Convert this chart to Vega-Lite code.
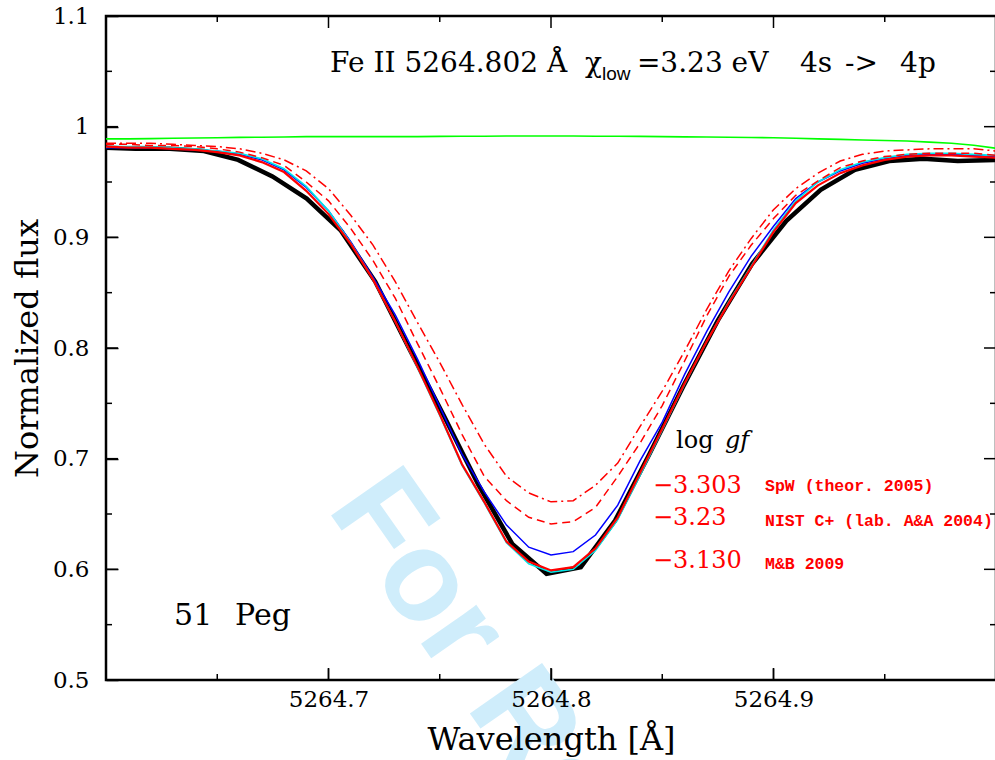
{
  "$schema": "https://vega.github.io/schema/vega-lite/v6.json",
  "width": 890,
  "height": 664,
  "autosize": {"type": "none"},
  "padding": {"left": 106, "top": 16, "right": 0, "bottom": 80},
  "background": "white",
  "config": {"view": {"stroke": "black", "strokeWidth": 2.5}, "font": "DejaVu Serif"},
  "datasets": {
    "obs": [
      {"lam": 5264.6000, "flux": 0.981}, {"lam": 5264.6132, "flux": 0.980}, {"lam": 5264.6286, "flux": 0.980},
      {"lam": 5264.6440, "flux": 0.978}, {"lam": 5264.6594, "flux": 0.970}, {"lam": 5264.6748, "flux": 0.955},
      {"lam": 5264.6902, "flux": 0.935}, {"lam": 5264.7056, "flux": 0.906}, {"lam": 5264.7210, "flux": 0.860},
      {"lam": 5264.7364, "flux": 0.799}, {"lam": 5264.7518, "flux": 0.739}, {"lam": 5264.7672, "flux": 0.677},
      {"lam": 5264.7826, "flux": 0.623}, {"lam": 5264.7980, "flux": 0.596}, {"lam": 5264.8134, "flux": 0.602},
      {"lam": 5264.8288, "flux": 0.644}, {"lam": 5264.8442, "flux": 0.704}, {"lam": 5264.8596, "flux": 0.766},
      {"lam": 5264.8750, "flux": 0.825}, {"lam": 5264.8904, "flux": 0.876}, {"lam": 5264.9058, "flux": 0.915},
      {"lam": 5264.9212, "flux": 0.943}, {"lam": 5264.9366, "flux": 0.961}, {"lam": 5264.9520, "flux": 0.969},
      {"lam": 5264.9674, "flux": 0.971}, {"lam": 5264.9828, "flux": 0.969}, {"lam": 5265.0000, "flux": 0.970}
    ],
    "models": [
      {"lam": 5264.60, "green": 0.989, "cyan": 0.982, "blue": 0.981, "mb": 0.982, "nist": 0.984, "spw": 0.985},
      {"lam": 5264.61, "green": 0.989, "cyan": 0.982, "blue": 0.981, "mb": 0.981, "nist": 0.984, "spw": 0.985},
      {"lam": 5264.62, "green": 0.9892, "cyan": 0.982, "blue": 0.981, "mb": 0.981, "nist": 0.983, "spw": 0.985},
      {"lam": 5264.63, "green": 0.9895, "cyan": 0.981, "blue": 0.980, "mb": 0.980, "nist": 0.983, "spw": 0.984},
      {"lam": 5264.64, "green": 0.9898, "cyan": 0.980, "blue": 0.979, "mb": 0.979, "nist": 0.982, "spw": 0.983},
      {"lam": 5264.65, "green": 0.990, "cyan": 0.978, "blue": 0.978, "mb": 0.977, "nist": 0.980, "spw": 0.982},
      {"lam": 5264.66, "green": 0.9903, "cyan": 0.976, "blue": 0.975, "mb": 0.974, "nist": 0.977, "spw": 0.980},
      {"lam": 5264.67, "green": 0.9905, "cyan": 0.971, "blue": 0.970, "mb": 0.968, "nist": 0.972, "spw": 0.976},
      {"lam": 5264.68, "green": 0.9907, "cyan": 0.962, "blue": 0.961, "mb": 0.959, "nist": 0.965, "spw": 0.970},
      {"lam": 5264.69, "green": 0.991, "cyan": 0.946, "blue": 0.945, "mb": 0.942, "nist": 0.950, "spw": 0.960},
      {"lam": 5264.70, "green": 0.991, "cyan": 0.924, "blue": 0.924, "mb": 0.921, "nist": 0.933, "spw": 0.944},
      {"lam": 5264.71, "green": 0.991, "cyan": 0.895, "blue": 0.896, "mb": 0.894, "nist": 0.908, "spw": 0.920},
      {"lam": 5264.72, "green": 0.991, "cyan": 0.862, "blue": 0.864, "mb": 0.862, "nist": 0.879, "spw": 0.893},
      {"lam": 5264.73, "green": 0.991, "cyan": 0.824, "blue": 0.830, "mb": 0.824, "nist": 0.845, "spw": 0.860},
      {"lam": 5264.74, "green": 0.991, "cyan": 0.782, "blue": 0.790, "mb": 0.783, "nist": 0.804, "spw": 0.823},
      {"lam": 5264.75, "green": 0.9912, "cyan": 0.739, "blue": 0.747, "mb": 0.740, "nist": 0.764, "spw": 0.787},
      {"lam": 5264.76, "green": 0.9913, "cyan": 0.694, "blue": 0.704, "mb": 0.695, "nist": 0.722, "spw": 0.749},
      {"lam": 5264.77, "green": 0.9914, "cyan": 0.660, "blue": 0.670, "mb": 0.661, "nist": 0.684, "spw": 0.713},
      {"lam": 5264.78, "green": 0.9915, "cyan": 0.624, "blue": 0.640, "mb": 0.625, "nist": 0.662, "spw": 0.684},
      {"lam": 5264.79, "green": 0.9915, "cyan": 0.605, "blue": 0.620, "mb": 0.607, "nist": 0.647, "spw": 0.669},
      {"lam": 5264.80, "green": 0.9915, "cyan": 0.5975, "blue": 0.613, "mb": 0.599, "nist": 0.641, "spw": 0.661},
      {"lam": 5264.81, "green": 0.9915, "cyan": 0.600, "blue": 0.616, "mb": 0.602, "nist": 0.643, "spw": 0.662},
      {"lam": 5264.82, "green": 0.9914, "cyan": 0.617, "blue": 0.631, "mb": 0.619, "nist": 0.656, "spw": 0.676},
      {"lam": 5264.83, "green": 0.9913, "cyan": 0.645, "blue": 0.658, "mb": 0.647, "nist": 0.684, "spw": 0.696},
      {"lam": 5264.84, "green": 0.9912, "cyan": 0.685, "blue": 0.698, "mb": 0.687, "nist": 0.714, "spw": 0.729},
      {"lam": 5264.85, "green": 0.991, "cyan": 0.726, "blue": 0.733, "mb": 0.727, "nist": 0.748, "spw": 0.761},
      {"lam": 5264.86, "green": 0.9908, "cyan": 0.767, "blue": 0.776, "mb": 0.768, "nist": 0.788, "spw": 0.797},
      {"lam": 5264.87, "green": 0.9906, "cyan": 0.806, "blue": 0.815, "mb": 0.806, "nist": 0.829, "spw": 0.835},
      {"lam": 5264.88, "green": 0.9904, "cyan": 0.842, "blue": 0.851, "mb": 0.841, "nist": 0.865, "spw": 0.870},
      {"lam": 5264.89, "green": 0.9902, "cyan": 0.874, "blue": 0.883, "mb": 0.873, "nist": 0.893, "spw": 0.899},
      {"lam": 5264.90, "green": 0.990, "cyan": 0.907, "blue": 0.910, "mb": 0.905, "nist": 0.917, "spw": 0.925},
      {"lam": 5264.91, "green": 0.9895, "cyan": 0.933, "blue": 0.935, "mb": 0.931, "nist": 0.938, "spw": 0.944},
      {"lam": 5264.92, "green": 0.989, "cyan": 0.950, "blue": 0.950, "mb": 0.947, "nist": 0.951, "spw": 0.958},
      {"lam": 5264.93, "green": 0.9885, "cyan": 0.961, "blue": 0.960, "mb": 0.958, "nist": 0.963, "spw": 0.969},
      {"lam": 5264.94, "green": 0.988, "cyan": 0.968, "blue": 0.967, "mb": 0.965, "nist": 0.969, "spw": 0.975},
      {"lam": 5264.95, "green": 0.9875, "cyan": 0.972, "blue": 0.971, "mb": 0.970, "nist": 0.973, "spw": 0.978},
      {"lam": 5264.96, "green": 0.987, "cyan": 0.975, "blue": 0.974, "mb": 0.973, "nist": 0.975, "spw": 0.979},
      {"lam": 5264.97, "green": 0.986, "cyan": 0.976, "blue": 0.975, "mb": 0.974, "nist": 0.976, "spw": 0.980},
      {"lam": 5264.98, "green": 0.985, "cyan": 0.976, "blue": 0.975, "mb": 0.974, "nist": 0.976, "spw": 0.980},
      {"lam": 5264.99, "green": 0.9832, "cyan": 0.975, "blue": 0.974, "mb": 0.973, "nist": 0.976, "spw": 0.980},
      {"lam": 5265.00, "green": 0.9805, "cyan": 0.974, "blue": 0.973, "mb": 0.972, "nist": 0.974, "spw": 0.978}
    ],
    "xmaj": [{"v": 5264.7}, {"v": 5264.8}, {"v": 5264.9}],
    "xmin": [{"v": 5264.65}, {"v": 5264.75}, {"v": 5264.85}, {"v": 5264.95}],
    "ymaj": [{"v": 0.6}, {"v": 0.7}, {"v": 0.8}, {"v": 0.9}, {"v": 1.0}],
    "ymin": [{"v": 0.55}, {"v": 0.65}, {"v": 0.75}, {"v": 0.85}, {"v": 0.95}, {"v": 1.05}],
    "wm": [{"lam": 5264.699, "flux": 0.655, "text": "For Review"}],
    "t28": [
      {"lam": 5264.7007, "flux": 1.0494, "text": "Fe II 5264.802 Å"},
      {"lam": 5264.8153, "flux": 1.0494, "text": "χ"},
      {"lam": 5264.8386, "flux": 1.0494, "text": "=3.23 eV"},
      {"lam": 5264.9119, "flux": 1.0494, "text": "4s"},
      {"lam": 5264.9321, "flux": 1.0494, "text": "->"},
      {"lam": 5264.9569, "flux": 1.0494, "text": "4p"}
    ],
    "tsub": [{"lam": 5264.8229, "flux": 1.0421, "text": "low"}],
    "tpeg": [{"lam": 5264.6306, "flux": 0.5494, "text": "51"}, {"lam": 5264.6580, "flux": 0.5494, "text": "Peg"}],
    "tlog": [{"lam": 5264.8562, "flux": 0.7094, "text": "log"}],
    "tgf": [{"lam": 5264.8782, "flux": 0.7094, "text": "gf"}],
    "tnum": [
      {"lam": 5264.8458, "flux": 0.6690, "text": "−3.303"},
      {"lam": 5264.8458, "flux": 0.6398, "text": "−3.23"},
      {"lam": 5264.8458, "flux": 0.6009, "text": "−3.130"}
    ],
    "tsrc": [
      {"lam": 5264.8962, "flux": 0.6705, "text": "SpW (theor. 2005)"},
      {"lam": 5264.8962, "flux": 0.6389, "text": "NIST C+ (lab. A&A 2004)"},
      {"lam": 5264.8962, "flux": 0.6000, "text": "M&B 2009"}
    ]
  },
  "layer": [
    {
      "data": {"name": "wm"},
      "mark": {"type": "text", "align": "left", "baseline": "alphabetic", "angle": 55, "font": "Liberation Sans", "fontWeight": "bold", "fontSize": 128, "color": "#cfedfb"},
      "encoding": {
        "x": {"field": "lam", "type": "quantitative", "scale": {"domain": [5264.6, 5265.0], "nice": false, "zero": false},
          "axis": {"orient": "bottom", "values": [5264.7, 5264.8, 5264.9], "format": ".1f", "offset": -12, "ticks": true,
            "tickSize": 12, "tickColor": "black", "tickWidth": 1.5, "domain": false, "grid": false, "labelOverlap": false,
            "labelFont": "DejaVu Serif", "labelFontSize": 23, "labelColor": "black", "labelPadding": 8,
            "title": "Wavelength [Å]", "titleFont": "DejaVu Serif", "titleFontSize": 32, "titleFontWeight": "normal", "titleColor": "black", "titlePadding": 13, "zindex": 2}},
        "y": {"field": "flux", "type": "quantitative", "scale": {"domain": [0.5, 1.1], "nice": false, "zero": false},
          "axis": {"orient": "left", "values": [0.5, 0.6, 0.7, 0.8, 0.9, 1.0, 1.1], "format": "~g", "offset": -12, "ticks": true,
            "tickSize": 12, "tickColor": "black", "tickWidth": 1.5, "domain": false, "grid": false, "labelOverlap": false,
            "labelFont": "DejaVu Serif", "labelFontSize": 23, "labelColor": "black", "labelPadding": 17,
            "title": "Normalized flux", "titleFont": "DejaVu Serif", "titleFontSize": 32, "titleFontWeight": "normal", "titleColor": "black", "titlePadding": 8, "zindex": 2}},
        "text": {"field": "text"}
      }
    },
    {
      "data": {"name": "obs"},
      "mark": {"type": "line", "color": "black", "strokeWidth": 4.5, "strokeJoin": "miter", "clip": true},
      "encoding": {
        "x": {"field": "lam", "type": "quantitative", "axis": null},
        "y": {"field": "flux", "type": "quantitative", "axis": null}
      }
    },
    {
      "data": {"name": "models"},
      "mark": {"type": "line", "color": "#00ff00", "strokeWidth": 1.6, "clip": true},
      "encoding": {
        "x": {"field": "lam", "type": "quantitative", "axis": null},
        "y": {"field": "green", "type": "quantitative", "axis": null}
      }
    },
    {
      "data": {"name": "models"},
      "mark": {"type": "line", "color": "#0000ff", "strokeWidth": 1.5, "clip": true},
      "encoding": {
        "x": {"field": "lam", "type": "quantitative", "axis": null},
        "y": {"field": "blue", "type": "quantitative", "axis": null}
      }
    },
    {
      "data": {"name": "models"},
      "mark": {"type": "line", "color": "#00e8e8", "strokeWidth": 1.6, "clip": true},
      "encoding": {
        "x": {"field": "lam", "type": "quantitative", "axis": null},
        "y": {"field": "cyan", "type": "quantitative", "axis": null}
      }
    },
    {
      "data": {"name": "models"},
      "mark": {"type": "line", "color": "#ff0000", "strokeWidth": 2.2, "clip": true},
      "encoding": {
        "x": {"field": "lam", "type": "quantitative", "axis": null},
        "y": {"field": "mb", "type": "quantitative", "axis": null}
      }
    },
    {
      "data": {"name": "models"},
      "mark": {"type": "line", "color": "#ff0000", "strokeWidth": 1.5, "strokeDash": [8, 5], "clip": true},
      "encoding": {
        "x": {"field": "lam", "type": "quantitative", "axis": null},
        "y": {"field": "nist", "type": "quantitative", "axis": null}
      }
    },
    {
      "data": {"name": "models"},
      "mark": {"type": "line", "color": "#ff0000", "strokeWidth": 1.5, "strokeDash": [10, 4, 2, 4], "clip": true},
      "encoding": {
        "x": {"field": "lam", "type": "quantitative", "axis": null},
        "y": {"field": "spw", "type": "quantitative", "axis": null}
      }
    },
    {
      "data": {"name": "xmaj"},
      "mark": {"type": "rule", "color": "black", "strokeWidth": 1.5},
      "encoding": {
        "x": {"field": "v", "type": "quantitative", "axis": null},
        "y": {"datum": 0.5, "type": "quantitative", "axis": null},
        "y2": {"datum": 0.51085}
      }
    },
    {
      "data": {"name": "xmaj"},
      "mark": {"type": "rule", "color": "black", "strokeWidth": 1.5},
      "encoding": {
        "x": {"field": "v", "type": "quantitative", "axis": null},
        "y": {"datum": 1.1, "type": "quantitative", "axis": null},
        "y2": {"datum": 1.08915}
      }
    },
    {
      "data": {"name": "xmin"},
      "mark": {"type": "rule", "color": "black", "strokeWidth": 1.5},
      "encoding": {
        "x": {"field": "v", "type": "quantitative", "axis": null},
        "y": {"datum": 0.5, "type": "quantitative", "axis": null},
        "y2": {"datum": 0.50543}
      }
    },
    {
      "data": {"name": "xmin"},
      "mark": {"type": "rule", "color": "black", "strokeWidth": 1.5},
      "encoding": {
        "x": {"field": "v", "type": "quantitative", "axis": null},
        "y": {"datum": 1.1, "type": "quantitative", "axis": null},
        "y2": {"datum": 1.09457}
      }
    },
    {
      "data": {"name": "ymaj"},
      "mark": {"type": "rule", "color": "black", "strokeWidth": 1.5},
      "encoding": {
        "y": {"field": "v", "type": "quantitative", "axis": null},
        "x": {"datum": 5264.6, "type": "quantitative", "axis": null},
        "x2": {"datum": 5264.60539}
      }
    },
    {
      "data": {"name": "ymaj"},
      "mark": {"type": "rule", "color": "black", "strokeWidth": 1.5},
      "encoding": {
        "y": {"field": "v", "type": "quantitative", "axis": null},
        "x": {"datum": 5265.0, "type": "quantitative", "axis": null},
        "x2": {"datum": 5264.99461}
      }
    },
    {
      "data": {"name": "ymin"},
      "mark": {"type": "rule", "color": "black", "strokeWidth": 1.5},
      "encoding": {
        "y": {"field": "v", "type": "quantitative", "axis": null},
        "x": {"datum": 5264.6, "type": "quantitative", "axis": null},
        "x2": {"datum": 5264.6027}
      }
    },
    {
      "data": {"name": "ymin"},
      "mark": {"type": "rule", "color": "black", "strokeWidth": 1.5},
      "encoding": {
        "y": {"field": "v", "type": "quantitative", "axis": null},
        "x": {"datum": 5265.0, "type": "quantitative", "axis": null},
        "x2": {"datum": 5264.9973}
      }
    },
    {
      "data": {"name": "t28"},
      "mark": {"type": "text", "align": "left", "baseline": "alphabetic", "font": "DejaVu Serif", "fontSize": 28, "color": "black"},
      "encoding": {
        "x": {"field": "lam", "type": "quantitative", "axis": null},
        "y": {"field": "flux", "type": "quantitative", "axis": null},
        "text": {"field": "text"}
      }
    },
    {
      "data": {"name": "tsub"},
      "mark": {"type": "text", "align": "left", "baseline": "alphabetic", "font": "Liberation Sans", "fontSize": 19, "color": "black"},
      "encoding": {
        "x": {"field": "lam", "type": "quantitative", "axis": null},
        "y": {"field": "flux", "type": "quantitative", "axis": null},
        "text": {"field": "text"}
      }
    },
    {
      "data": {"name": "tpeg"},
      "mark": {"type": "text", "align": "left", "baseline": "alphabetic", "font": "DejaVu Serif", "fontSize": 30, "color": "black"},
      "encoding": {
        "x": {"field": "lam", "type": "quantitative", "axis": null},
        "y": {"field": "flux", "type": "quantitative", "axis": null},
        "text": {"field": "text"}
      }
    },
    {
      "data": {"name": "tlog"},
      "mark": {"type": "text", "align": "left", "baseline": "alphabetic", "font": "DejaVu Serif", "fontSize": 24, "color": "black"},
      "encoding": {
        "x": {"field": "lam", "type": "quantitative", "axis": null},
        "y": {"field": "flux", "type": "quantitative", "axis": null},
        "text": {"field": "text"}
      }
    },
    {
      "data": {"name": "tgf"},
      "mark": {"type": "text", "align": "left", "baseline": "alphabetic", "font": "DejaVu Serif", "fontStyle": "italic", "fontSize": 24, "color": "black"},
      "encoding": {
        "x": {"field": "lam", "type": "quantitative", "axis": null},
        "y": {"field": "flux", "type": "quantitative", "axis": null},
        "text": {"field": "text"}
      }
    },
    {
      "data": {"name": "tnum"},
      "mark": {"type": "text", "align": "left", "baseline": "alphabetic", "font": "DejaVu Serif", "fontSize": 24, "color": "#ff0000"},
      "encoding": {
        "x": {"field": "lam", "type": "quantitative", "axis": null},
        "y": {"field": "flux", "type": "quantitative", "axis": null},
        "text": {"field": "text"}
      }
    },
    {
      "data": {"name": "tsrc"},
      "mark": {"type": "text", "align": "left", "baseline": "alphabetic", "font": "Liberation Mono", "fontWeight": "bold", "fontSize": 16.5, "color": "#ff0000"},
      "encoding": {
        "x": {"field": "lam", "type": "quantitative", "axis": null},
        "y": {"field": "flux", "type": "quantitative", "axis": null},
        "text": {"field": "text"}
      }
    }
  ],
  "resolve": {"axis": {"x": "independent", "y": "independent"}}
}
